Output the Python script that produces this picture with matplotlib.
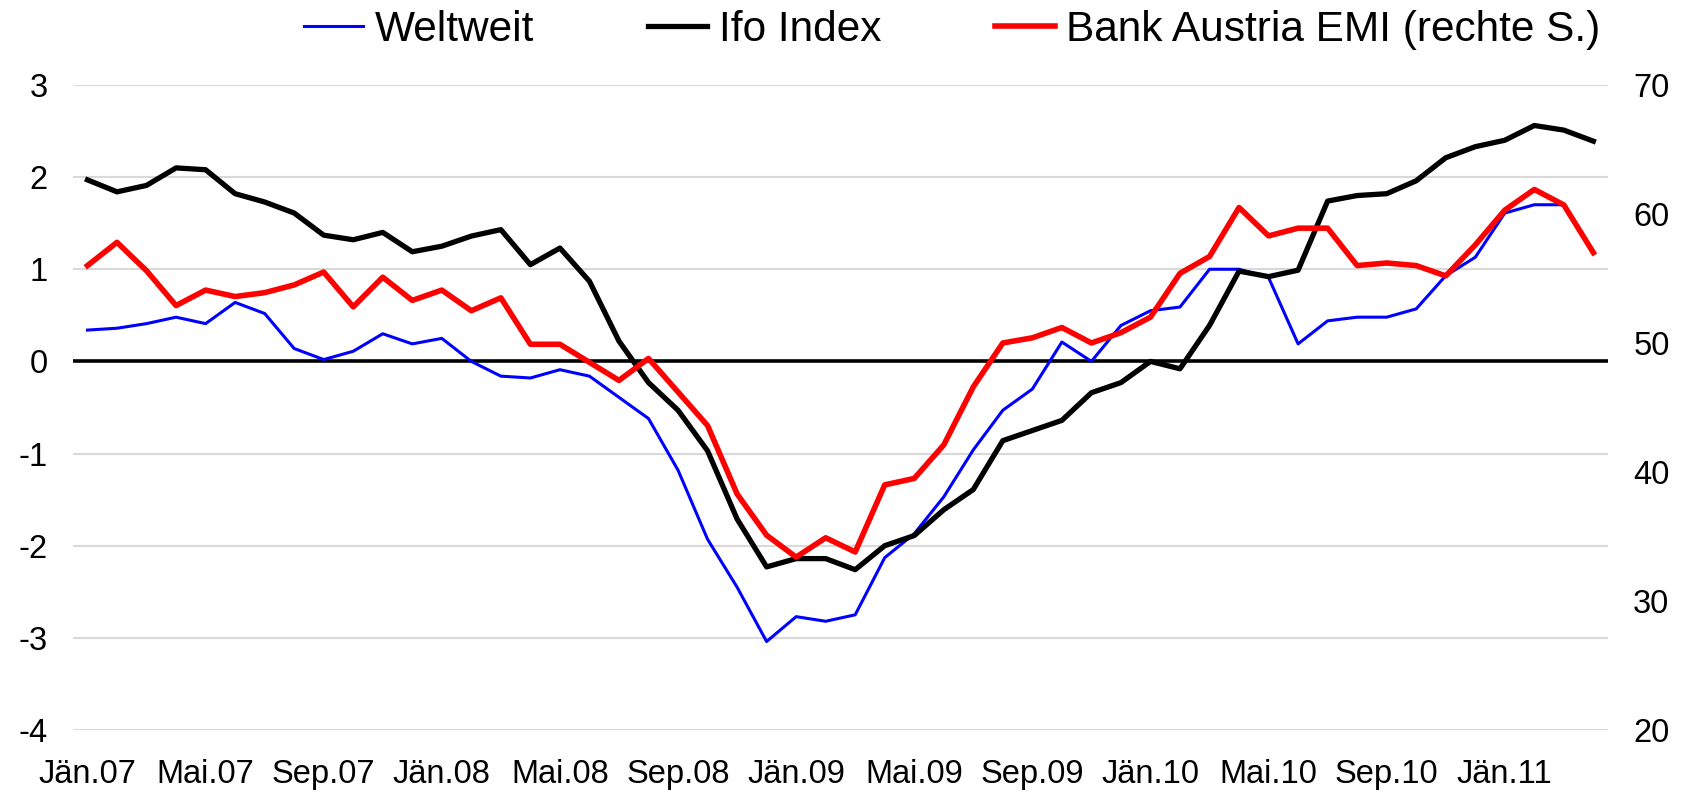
import matplotlib
matplotlib.use('Agg')
import matplotlib.pyplot as plt
import numpy as np

plt.rcParams['font.family'] = ['Liberation Sans', 'DejaVu Sans']
plt.rcParams['axes.unicode_minus'] = False

# monthly values Jan 2007 - Apr 2011
weltweit = [0.34, 0.36, 0.41, 0.48, 0.41, 0.64, 0.52, 0.14, 0.02, 0.11,
            0.30, 0.19, 0.25, 0.00, -0.16, -0.18, -0.09, -0.16, -0.39, -0.62,
            -1.18, -1.93, -2.45, -3.04, -2.77, -2.82, -2.75, -2.13, -1.87, -1.47,
            -0.96, -0.53, -0.30, 0.21, 0.00, 0.39, 0.55, 0.59, 1.00, 1.00,
            0.91, 0.19, 0.44, 0.48, 0.48, 0.57, 0.93, 1.13, 1.61, 1.70, 1.70, np.nan]

ifo = [1.97, 1.84, 1.91, 2.10, 2.08, 1.82, 1.73, 1.61, 1.37, 1.32,
       1.40, 1.19, 1.25, 1.36, 1.43, 1.05, 1.23, 0.87, 0.22, -0.23,
       -0.53, -0.97, -1.71, -2.23, -2.14, -2.14, -2.26, -2.00, -1.89, -1.61,
       -1.39, -0.86, -0.75, -0.64, -0.34, -0.23, 0.00, -0.08, 0.39, 0.98,
       0.92, 0.99, 1.74, 1.80, 1.82, 1.96, 2.21, 2.33, 2.40, 2.56, 2.51, 2.39]

emi = [56.0, 57.8, 55.6, 52.9, 54.1, 53.6, 53.9, 54.5, 55.5, 52.8,
       55.1, 53.3, 54.1, 52.5, 53.5, 49.9, 49.9, 48.5, 47.1, 48.8,
       46.2, 43.6, 38.3, 35.1, 33.4, 34.9, 33.8, 39.0, 39.5, 42.1,
       46.6, 50.0, 50.4, 51.2, 50.0, 50.8, 52.0, 55.4, 56.7, 60.5,
       58.3, 58.9, 58.9, 56.0, 56.2, 56.0, 55.2, 57.6, 60.3, 61.9, 60.7, 57.0]

tick_labels = ['Jän.07', 'Mai.07', 'Sep.07', 'Jän.08', 'Mai.08', 'Sep.08', 'Jän.09',
               'Mai.09', 'Sep.09', 'Jän.10', 'Mai.10', 'Sep.10', 'Jän.11']

x = np.arange(len(ifo))

fig = plt.figure(figsize=(16.91, 7.94), dpi=100)
ax1 = fig.add_axes([0.043, 0.0806, 0.908, 0.8124])
ax2 = ax1.twinx()

ax1.axhline(0, color='black', linewidth=2.6, zorder=1)
l1, = ax1.plot(x, weltweit, color='#0000ff', linewidth=2.2, label='Weltweit', zorder=3)
l2, = ax1.plot(x, ifo, color='black', linewidth=3.8, label='Ifo Index', zorder=3)
l3, = ax2.plot(x, emi, color='#ff0000', linewidth=4.0, label='Bank Austria EMI (rechte S.)')

ax1.set_xlim(-0.5, len(ifo) - 0.5)
ax1.set_ylim(-4, 3)
ax1.set_yticks(range(-4, 4))
ax2.set_ylim(20, 70)
ax2.set_yticks(range(20, 71, 10))
ax1.set_xticks(x[::4])
ax1.set_xticklabels(tick_labels)

ax1.grid(axis='y', color='#d9d9d9', linewidth=1.5, zorder=0)
ax1.set_axisbelow(True)

for ax in (ax1, ax2):
    for s in ax.spines.values():
        s.set_visible(False)
    ax.tick_params(length=0, labelsize=23.5)
ax1.tick_params(axis='y', pad=18)
ax1.tick_params(axis='x', pad=21)
ax2.tick_params(axis='y', pad=18)

fig.legend([l1, l2, l3], [l1.get_label(), l2.get_label(), l3.get_label()],
           loc='center', bbox_to_anchor=(0.563, 0.962), ncol=3, frameon=False,
           fontsize=30.5, handlelength=1.4, handletextpad=0.26, columnspacing=2.7)

plt.savefig('out.png')
